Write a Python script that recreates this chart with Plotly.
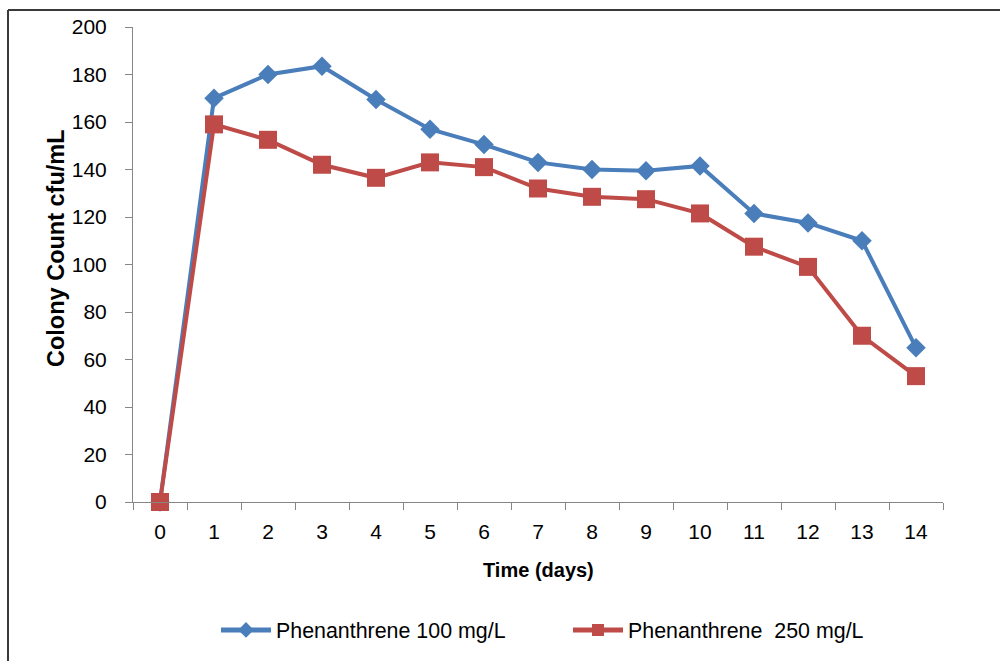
import plotly.graph_objects as go

days = [str(d) for d in range(15)]
phen_100 = [0, 170, 180, 183.5, 169.5, 157, 150.5, 143, 140, 139.5, 141.5, 121.5, 117.5, 110, 65]
phen_250 = [0, 159, 152.5, 142, 136.5, 143, 141, 132, 128.5, 127.5, 121.5, 107.5, 99, 70, 53]
y_ticks = list(range(0, 201, 20))

BLUE = "#4A7EBB"
RED = "#BE4B48"
AXIS = "#868686"
FONT = "Liberation Sans"

L, R, T, B = 133, 57, 27, 159
W, H = 1000, 661
PW, PH = W - L - R, H - T - B

def px(x):
    return (x - L) / PW

def py(y):
    return (H - B - y) / PH

fig = go.Figure()
fig.add_trace(go.Scatter(
    x=days, y=phen_100, mode="lines+markers", name="Phenanthrene 100 mg/L",
    line=dict(color=BLUE, width=4), marker=dict(symbol="diamond", size=15, color=BLUE),
    cliponaxis=False,
))
fig.add_trace(go.Scatter(
    x=days, y=phen_250, mode="lines+markers", name="Phenanthrene\u00a0 250 mg/L",
    line=dict(color=RED, width=4), marker=dict(symbol="square", size=18, color=RED),
    cliponaxis=False,
))

fig.update_layout(
    width=W, height=H,
    margin=dict(l=L, r=R, t=T, b=B, pad=0, autoexpand=False),
    paper_bgcolor="white", plot_bgcolor="white",
    font=dict(family=FONT, color="#000000", size=20),
    showlegend=True,
    legend=dict(orientation="h", xref="container", yref="container",
                x=216 / W, xanchor="left", y=1 - 630 / H, yanchor="middle",
                font=dict(size=21.4, family=FONT), entrywidth=287, itemwidth=50,
                itemsizing="constant", bgcolor="rgba(0,0,0,0)"),
    xaxis=dict(type="category", range=[-0.5, 14.5], tickson="boundaries", automargin=False,
               ticks="outside", ticklen=7, tickcolor=AXIS, showline=True, linecolor=AXIS,
               linewidth=1, showgrid=False, zeroline=False, ticklabelstandoff=11,
               tickfont=dict(size=21, family=FONT), fixedrange=True),
    yaxis=dict(range=[0, 200], tickvals=y_ticks, ticks="outside", ticklen=7, tickcolor=AXIS,
               showline=True, linecolor=AXIS, linewidth=1, showgrid=False, zeroline=False,
               automargin=False, ticklabelstandoff=14, tickfont=dict(size=21, family=FONT),
               fixedrange=True),
    annotations=[
        dict(text="<b>Time (days)</b>", xref="paper", yref="paper", x=px(538), y=py(570),
             xanchor="center", yanchor="middle", showarrow=False,
             font=dict(size=20, family=FONT)),
        dict(text="<b>Colony Count cfu/mL</b>", xref="paper", yref="paper", x=px(56), y=py(248),
             xanchor="center", yanchor="middle", showarrow=False, textangle=-90,
             font=dict(size=23.5, family=FONT)),
    ],
    shapes=[
        dict(type="line", xref="paper", yref="paper", x0=px(8), x1=px(1005), y0=py(10), y1=py(10),
             line=dict(color="#3a3a3a", width=2)),
        dict(type="line", xref="paper", yref="paper", x0=px(8), x1=px(8), y0=py(10), y1=py(670),
             line=dict(color="#3a3a3a", width=2)),
    ],
)

fig.write_html("out.html")
